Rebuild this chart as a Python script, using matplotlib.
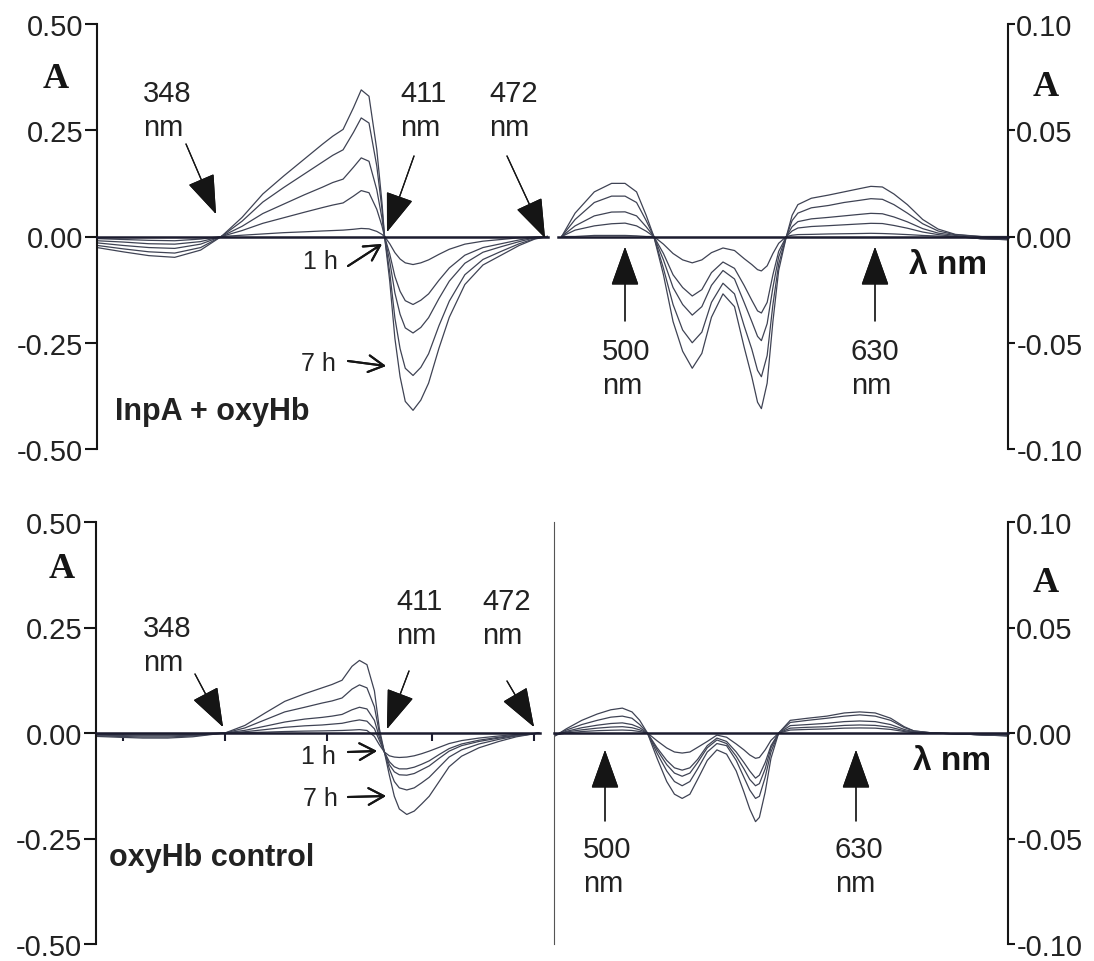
import matplotlib.pyplot as plt

plt.rcParams['font.family'] = ['Liberation Sans', 'DejaVu Sans']
plt.rcParams['axes.unicode_minus'] = False

W, H = 1094, 962

# ---- InpA + oxyHb (top), difference spectra, largest change (7 h) first ----
inp_uv_wl = [300, 310, 320, 330, 340, 348, 356, 364, 372, 380, 387, 391, 395, 399,
             402, 405, 408, 410, 411, 413, 415, 417, 419, 422, 425, 428, 432, 436,
             442, 449, 456, 463, 469, 474]
inp_uv = [
    [-0.026, -0.036, -0.045, -0.049, -0.032, 0.000, 0.045, 0.100, 0.142, 0.182, 0.217, 0.236,
     0.252, 0.303, 0.345, 0.330, 0.205, 0.080, 0.000, -0.105, -0.240, -0.330, -0.388, -0.409,
     -0.385, -0.345, -0.263, -0.190, -0.113, -0.067, -0.044, -0.021, -0.006, 0.000],
    [-0.021, -0.029, -0.036, -0.039, -0.026, 0.000, 0.036, 0.081, 0.115, 0.147, 0.175, 0.191,
     0.204, 0.245, 0.279, 0.267, 0.166, 0.065, 0.000, -0.084, -0.192, -0.264, -0.310, -0.327,
     -0.308, -0.276, -0.210, -0.152, -0.090, -0.054, -0.035, -0.017, -0.005, 0.000],
    [-0.015, -0.021, -0.026, -0.028, -0.018, 0.000, 0.024, 0.054, 0.076, 0.098, 0.116, 0.127,
     0.135, 0.163, 0.185, 0.177, 0.110, 0.043, 0.000, -0.058, -0.133, -0.183, -0.215, -0.227,
     -0.214, -0.191, -0.146, -0.105, -0.063, -0.037, -0.024, -0.012, -0.003, 0.000],
    [-0.010, -0.013, -0.017, -0.018, -0.012, 0.000, 0.014, 0.031, 0.044, 0.057, 0.068, 0.074,
     0.079, 0.095, 0.108, 0.103, 0.064, 0.025, 0.000, -0.041, -0.094, -0.129, -0.151, -0.160,
     -0.150, -0.135, -0.103, -0.074, -0.044, -0.026, -0.017, -0.008, -0.002, 0.000],
    [-0.005, -0.007, -0.009, -0.010, -0.006, 0.000, 0.003, 0.006, 0.009, 0.011, 0.013, 0.014,
     0.015, 0.017, 0.019, 0.018, 0.012, 0.005, 0.000, -0.017, -0.038, -0.053, -0.062, -0.066,
     -0.062, -0.055, -0.042, -0.030, -0.018, -0.011, -0.007, -0.003, -0.001, 0.000],
]
inp_vis_wl = [467, 474, 484, 493, 500, 506, 511, 515, 520, 525, 530, 535, 540, 545, 551,
              557, 562, 566, 569, 571, 574, 577, 580, 584, 587, 590, 597, 606, 614, 622,
              628, 634, 640, 647, 655, 663, 672, 685, 699]
inp_vis = [
    [0.000, 0.011, 0.021, 0.025, 0.025, 0.021, 0.010, 0.000,
     -0.018, -0.040, -0.054, -0.062, -0.055, -0.038, -0.027, -0.033, -0.052, -0.066, -0.078,
     -0.081, -0.069, -0.040, -0.016,
     0.000, 0.010, 0.015, 0.018, 0.0195, 0.021, 0.0225, 0.0236, 0.0233, 0.020, 0.015, 0.008,
     0.0035, 0.001, 0.000, 0.000],
    [0.000, 0.008, 0.016, 0.019, 0.019, 0.016, 0.0075, 0.000,
     -0.015, -0.032, -0.044, -0.050, -0.045, -0.031, -0.022, -0.027, -0.042, -0.053, -0.063,
     -0.066, -0.056, -0.032, -0.013,
     0.000, 0.0075, 0.011, 0.0135, 0.0146, 0.016, 0.017, 0.0178, 0.0175, 0.015, 0.011, 0.006,
     0.0026, 0.0008, 0.000, -0.001],
    [0.000, 0.005, 0.0097, 0.0115, 0.0116, 0.0097, 0.0046, 0.000,
     -0.011, -0.024, -0.032, -0.037, -0.033, -0.023, -0.016, -0.020, -0.031, -0.040, -0.047,
     -0.049, -0.041, -0.024, -0.0096,
     0.000, 0.0046, 0.007, 0.0083, 0.009, 0.0097, 0.0104, 0.0109, 0.0107, 0.0092, 0.0069,
     0.0037, 0.0016, 0.0005, -0.001, -0.001],
    [0.000, 0.003, 0.005, 0.006, 0.0063, 0.005, 0.0025, 0.000,
     -0.008, -0.018, -0.024, -0.028, -0.025, -0.017, -0.012, -0.015, -0.023, -0.030, -0.035,
     -0.036, -0.031, -0.018, -0.007,
     0.000, 0.0026, 0.004, 0.0047, 0.0051, 0.0055, 0.0059, 0.0062, 0.0061, 0.0052, 0.0039,
     0.0021, 0.0009, 0.000, -0.001, -0.0015],
    [0.000, 0.000, 0.0005, 0.0005, 0.0005, 0.0003, 0.000, 0.000,
     -0.0036, -0.008, -0.011, -0.0124, -0.011, -0.0076, -0.0054, -0.0066, -0.0104, -0.0132,
     -0.0156, -0.0162, -0.0138, -0.008, -0.0032,
     0.000, 0.0006, 0.0009, 0.001, 0.0012, 0.0013, 0.0014, 0.0015, 0.0014, 0.0012, 0.0009,
     0.0005, 0.0002, 0.000, -0.001, -0.0015],
]

# ---- oxyHb control (bottom) ----
ctl_uv_wl = [296, 305, 315, 325, 335, 342, 348, 356, 364, 372, 380, 387, 391, 395, 399,
             402, 405, 408, 410, 412, 414, 416, 418, 421, 424, 427, 430, 434, 438, 443,
             450, 458, 465, 472, 474]
ctl_uv = [
    [-0.008, -0.010, -0.012, -0.012, -0.009, -0.004, 0.000, 0.018, 0.047, 0.075, 0.093, 0.107,
     0.115, 0.125, 0.158, 0.172, 0.162, 0.100, 0.010, -0.045, -0.100, -0.150, -0.180, -0.193,
     -0.185, -0.168, -0.150, -0.115, -0.080, -0.055, -0.035, -0.020, -0.009, -0.002, 0.000],
    [-0.0065, -0.008, -0.0096, -0.0096, -0.007, -0.003, 0.000, 0.012, 0.031, 0.050, 0.061,
     0.071, 0.076, 0.083, 0.104, 0.114, 0.107, 0.062, 0.000, -0.045, -0.085, -0.115, -0.130,
     -0.135, -0.130, -0.118, -0.105, -0.081, -0.057, -0.040, -0.026, -0.015, -0.007, -0.002,
     0.000],
    [-0.005, -0.006, -0.007, -0.007, -0.0055, -0.0025, 0.000, 0.0063, 0.016, 0.026, 0.033,
     0.037, 0.040, 0.044, 0.055, 0.061, 0.057, 0.030, -0.010, -0.045, -0.075, -0.092, -0.099,
     -0.100, -0.096, -0.087, -0.078, -0.060, -0.043, -0.030, -0.020, -0.012, -0.006, -0.002,
     0.000],
    [-0.003, -0.004, -0.005, -0.005, -0.0035, -0.0015, 0.000, 0.003, 0.008, 0.0135, 0.017,
     0.019, 0.021, 0.023, 0.028, 0.031, 0.028, 0.010, -0.018, -0.045, -0.068, -0.080, -0.085,
     -0.085, -0.081, -0.074, -0.066, -0.051, -0.037, -0.026, -0.017, -0.010, -0.005, -0.0015,
     0.000],
    [-0.002, -0.002, -0.0025, -0.0025, -0.002, -0.001, 0.000, 0.001, 0.002, 0.0035, 0.0045,
     0.005, 0.0055, 0.006, 0.007, 0.008, 0.006, -0.008, -0.028, -0.045, -0.054, -0.057, -0.058,
     -0.057, -0.054, -0.049, -0.043, -0.034, -0.025, -0.018, -0.012, -0.007, -0.0035, -0.001,
     0.000],
]
ctl_vis_wl = [474, 480, 488, 496, 503, 509, 514, 518, 522, 527, 532, 536, 540, 544, 548,
              553, 558, 563, 568, 572, 575, 578, 580, 583, 586, 590, 596, 605, 615, 624,
              632, 640, 648, 655, 660, 670, 685, 700, 708]
ctl_vis = [
    [-0.0015, 0.002, 0.006, 0.009, 0.011, 0.0118, 0.010, 0.006, 0.000,
     -0.012, -0.023, -0.029, -0.031, -0.029, -0.022, -0.013, -0.008, -0.010, -0.018, -0.028,
     -0.036, -0.042, -0.040, -0.028, -0.012,
     0.000, 0.006, 0.007, 0.008, 0.0095, 0.010, 0.0095, 0.007, 0.003, 0.001, 0.000, -0.0005,
     -0.001, -0.0015],
    [-0.001, 0.0014, 0.004, 0.006, 0.0075, 0.008, 0.007, 0.004, 0.000,
     -0.0096, -0.018, -0.023, -0.025, -0.023, -0.017, -0.009, -0.005, -0.006, -0.013, -0.021,
     -0.027, -0.031, -0.030, -0.021, -0.009,
     0.000, 0.005, 0.006, 0.007, 0.008, 0.0086, 0.008, 0.006, 0.0026, 0.001, 0.000, -0.0005,
     -0.001, -0.001],
    [-0.001, 0.0008, 0.0025, 0.0037, 0.0045, 0.0048, 0.004, 0.0025, 0.000,
     -0.008, -0.015, -0.019, -0.0205, -0.019, -0.014, -0.007, -0.0033, -0.005, -0.011, -0.017,
     -0.022, -0.025, -0.024, -0.017, -0.007,
     0.000, 0.0035, 0.004, 0.0046, 0.0054, 0.0057, 0.0054, 0.004, 0.0017, 0.0006, 0.000,
     -0.0005, -0.001, -0.001],
    [-0.001, 0.0005, 0.0015, 0.0023, 0.0028, 0.003, 0.0025, 0.0015, 0.000,
     -0.007, -0.013, -0.0165, -0.0176, -0.0165, -0.0125, -0.006, -0.0024, -0.004, -0.009,
     -0.014, -0.018, -0.0214, -0.020, -0.014, -0.006,
     0.000, 0.0023, 0.0027, 0.003, 0.0036, 0.0038, 0.0036, 0.0027, 0.0011, 0.0004, 0.000,
     -0.0005, -0.001, -0.001],
    [-0.001, 0.000, 0.0007, 0.0011, 0.0013, 0.0014, 0.0012, 0.0007, 0.000,
     -0.0037, -0.0071, -0.009, -0.0095, -0.009, -0.0068, -0.004, -0.001, -0.002, -0.0052,
     -0.008, -0.0104, -0.012, -0.0116, -0.008, -0.0035,
     0.000, 0.0014, 0.0017, 0.0019, 0.0023, 0.0024, 0.0023, 0.0017, 0.0007, 0.0002, 0.000,
     -0.0005, -0.001, -0.001],
]

uv_ticks = [0.5, 0.25, 0.0, -0.25, -0.5]
uv_ticklabels = ['0.50', '0.25', '0.00', '-0.25', '-0.50']
vis_ticks = [0.1, 0.05, 0.0, -0.05, -0.1]
vis_ticklabels = ['0.10', '0.05', '0.00', '-0.05', '-0.10']
ctl_uv_xticks = [307, 348, 389, 431, 472]


def rect(x0, y0, x1, y1):
    return [x0 / W, 1 - y1 / H, (x1 - x0) / W, (y1 - y0) / H]


def fp(x, y):
    return (x / W, 1 - y / H)


fig = plt.figure(figsize=(W / 100, H / 100), dpi=100)

line_c = '#3f4354'
zero_c = '#1b1b2e'
ink = '#151515'


def base_axes(box, xlim, ylim):
    ax = fig.add_axes(box)
    ax.set_facecolor('none')
    ax.set_xlim(*xlim)
    ax.set_ylim(*ylim)
    for s in ax.spines.values():
        s.set_visible(False)
    sp = ax.spines['bottom']
    sp.set_visible(True)
    sp.set_position(('data', 0))
    sp.set_linewidth(1.8)
    sp.set_color(zero_c)
    ax.set_xticks([])
    return ax


panels = [
    dict(top=25, bot=450, uv_x=(97, 548), vis_x=(558, 1008),
         uv_xlim=(300, 474.1), vis_xlim=(465.1, 699.4),
         uv_wl=inp_uv_wl, uv=inp_uv, vis_wl=inp_vis_wl, vis=inp_vis,
         xticks=[], divider=False),
    dict(top=523, bot=945, uv_x=(96, 540), vis_x=(554, 1008),
         uv_xlim=(296.2, 474.5), vis_xlim=(473.6, 708.8),
         uv_wl=ctl_uv_wl, uv=ctl_uv, vis_wl=ctl_vis_wl, vis=ctl_vis,
         xticks=ctl_uv_xticks, divider=True),
]

for p in panels:
    ax_uv = base_axes(rect(p['uv_x'][0], p['top'], p['uv_x'][1], p['bot']),
                      p['uv_xlim'], (-0.5, 0.5))
    ax_uv.spines['left'].set_visible(True)
    ax_uv.spines['left'].set_linewidth(1.5)
    ax_uv.spines['left'].set_color(ink)
    ax_uv.set_yticks(uv_ticks, uv_ticklabels)
    ax_uv.tick_params(axis='y', direction='out', length=9, width=1.5, pad=1,
                      labelsize=21, color=ink, labelcolor='#222222')
    if p['xticks']:
        ax_uv.set_xticks(p['xticks'])
        ax_uv.tick_params(axis='x', direction='out', length=6, width=1.5,
                          labelbottom=False, color=zero_c)
    for y in p['uv']:
        ax_uv.plot(p['uv_wl'], y, color=line_c, lw=0.9)

    ax_vis = base_axes(rect(p['vis_x'][0], p['top'], p['vis_x'][1], p['bot']),
                       p['vis_xlim'], (-0.1, 0.1))
    ax_vis.yaxis.tick_right()
    ax_vis.spines['right'].set_visible(True)
    ax_vis.spines['right'].set_linewidth(1.5)
    ax_vis.spines['right'].set_color(ink)
    ax_vis.set_yticks(vis_ticks, vis_ticklabels)
    ax_vis.tick_params(axis='y', direction='out', length=5, width=1.5, pad=1,
                       labelsize=21, color=ink, labelcolor='#222222')
    if p['divider']:
        ax_vis.spines['left'].set_visible(True)
        ax_vis.spines['left'].set_linewidth(0.8)
        ax_vis.spines['left'].set_color('#555555')
    for y in p['vis']:
        ax_vis.plot(p['vis_wl'], y, color=line_c, lw=0.9)

# ---- annotations (figure pixel positions) ----
big = dict(arrowstyle='-|>,head_length=1.4,head_width=0.5', mutation_scale=18,
           lw=0.9, color=ink, shrinkA=0, shrinkB=0)
small = dict(arrowstyle='->,head_length=0.55,head_width=0.3', mutation_scale=20,
             lw=1.5, color=ink, shrinkA=0, shrinkB=0)

wave_labels = [
    ('348\nnm', (143, 111), (186, 145), (216, 215)),
    ('411\nnm', (400, 111), (414, 157), (387, 233)),
    ('472\nnm', (489, 111), (507, 157), (545, 239)),
    ('500\nnm', (602, 369), (625, 322), (625, 248)),
    ('630\nnm', (851, 369), (875, 322), (875, 248)),
    ('348\nnm', (143, 646), (195, 675), (223, 728)),
    ('411\nnm', (396, 619), (409, 672), (387, 730)),
    ('472\nnm', (482, 619), (507, 682), (534, 728)),
    ('500\nnm', (583, 867), (605, 822), (605, 751)),
    ('630\nnm', (835, 867), (856, 822), (856, 751)),
]
for txt, pos, tail, tip in wave_labels:
    fig.text(*fp(*pos), txt, fontsize=21, ha='left', va='center',
             linespacing=1.25, color='#222222')
    fig.add_artist(plt.annotate('', xy=fp(*tip), xytext=fp(*tail),
                                xycoords='figure fraction', arrowprops=big))

time_labels = [
    ('1 h', (320, 262), (348, 267), (382, 245)),
    ('7 h', (318, 364), (348, 362), (386, 367)),
    ('1 h', (318, 757), (348, 753), (377, 752)),
    ('7 h', (320, 799), (348, 798), (386, 797)),
]
for txt, pos, tail, tip in time_labels:
    fig.text(*fp(*pos), txt, fontsize=18, ha='center', va='center', color='#222222')
    fig.add_artist(plt.annotate('', xy=fp(*tip), xytext=fp(*tail),
                                xycoords='figure fraction', arrowprops=small))

for pos in [(56, 80), (1046, 88), (62, 569), (1046, 584)]:
    fig.text(*fp(*pos), 'A', fontsize=26, fontweight='bold', ha='center',
             va='center', family=['Liberation Serif', 'DejaVu Serif'], color=ink)

for pos in [(948, 265), (952, 762)]:
    fig.text(*fp(*pos), 'λ nm', fontsize=24, fontweight='bold', ha='center',
             va='center', color=ink)

fig.text(*fp(115, 412), 'InpA + oxyHb', fontsize=22, fontweight='bold',
         ha='left', va='center', color='#222222')
fig.text(*fp(109, 858), 'oxyHb control', fontsize=22, fontweight='bold',
         ha='left', va='center', color='#222222')

fig.savefig('out.png', dpi=100)
